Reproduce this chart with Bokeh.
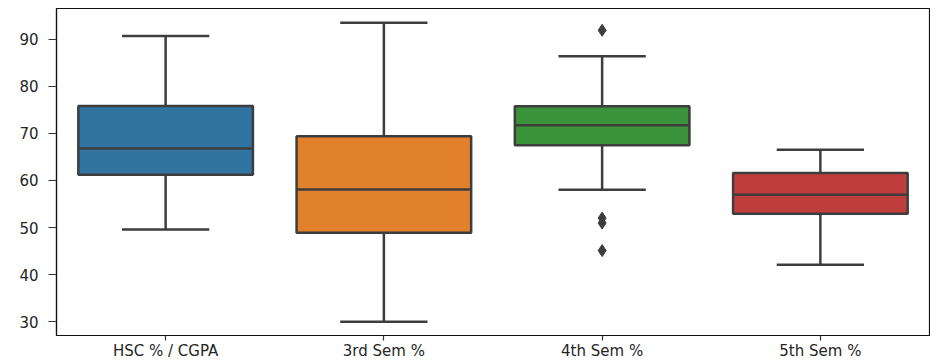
import numpy as np
from bokeh.plotting import figure
from bokeh.models import Range1d, FixedTicker
from bokeh.embed import file_html
from bokeh.resources import INLINE

categories = ["HSC % / CGPA", "3rd Sem %", "4th Sem %", "5th Sem %"]
lower_whisker = [49.6, 30.0, 58.0, 42.1]
q1 = [61.2, 48.9, 67.5, 52.9]
median = [66.8, 58.1, 71.75, 56.95]
q3 = [75.8, 69.4, 75.75, 61.6]
upper_whisker = [90.7, 93.5, 86.4, 66.5]
outlier_cat = [2, 2, 2, 2]
outlier_val = [91.9, 52.0, 50.95, 45.1]
colors = ["#3274a1", "#e1812c", "#3a923a", "#c03d3e"]
y_ticks = [30, 40, 50, 60, 70, 80, 90]

line_col = "#3d3d3d"
xs = np.arange(len(categories))
box_w = 0.8
cap_w = 0.4

p = figure(width=930, height=362, output_backend="svg", toolbar_location=None,
           x_range=Range1d(-0.5, len(categories) - 0.5), y_range=Range1d(27.06, 96.53),
           min_border_left=56, min_border_right=1, min_border_top=8, min_border_bottom=24)

p.vbar(x=xs, width=box_w, bottom=q1, top=q3, fill_color=colors,
       line_color=line_col, line_width=2.5)
p.segment(x0=xs - box_w / 2, x1=xs + box_w / 2, y0=median, y1=median,
          line_color=line_col, line_width=2.5)
p.segment(x0=xs, x1=xs, y0=q3, y1=upper_whisker, line_color=line_col, line_width=2.5)
p.segment(x0=xs, x1=xs, y0=q1, y1=lower_whisker, line_color=line_col, line_width=2.5)
p.segment(x0=xs - cap_w / 2, x1=xs + cap_w / 2, y0=upper_whisker, y1=upper_whisker,
          line_color=line_col, line_width=2.5)
p.segment(x0=xs - cap_w / 2, x1=xs + cap_w / 2, y0=lower_whisker, y1=lower_whisker,
          line_color=line_col, line_width=2.5)
p.scatter(x=outlier_cat, y=outlier_val, marker="diamond", size=12,
          fill_color=line_col, line_color=line_col)

p.xgrid.visible = False
p.ygrid.visible = False
p.outline_line_color = "#111111"
p.outline_line_width = 1.2
p.background_fill_color = "white"
p.border_fill_color = "white"

p.xaxis.ticker = FixedTicker(ticks=list(xs))
p.xaxis.major_label_overrides = {int(i): c for i, c in zip(xs, categories)}
p.yaxis.ticker = FixedTicker(ticks=y_ticks)

for ax in (p.xaxis, p.yaxis):
    ax.axis_line_color = "#111111"
    ax.axis_line_width = 1.2
    ax.major_tick_line_color = "#333333"
    ax.major_tick_line_width = 1.2
    ax.minor_tick_line_color = None
    ax.major_tick_in = 0
    ax.major_label_text_font = "DejaVu Sans"
    ax.major_label_text_font_size = "15px"
    ax.major_label_text_color = "#262626"

p.yaxis.major_tick_out = 8
p.yaxis.major_label_standoff = 10
p.xaxis.major_tick_out = 5
p.xaxis.major_label_standoff = 1

open("out.html", "w").write(file_html(p, INLINE))
